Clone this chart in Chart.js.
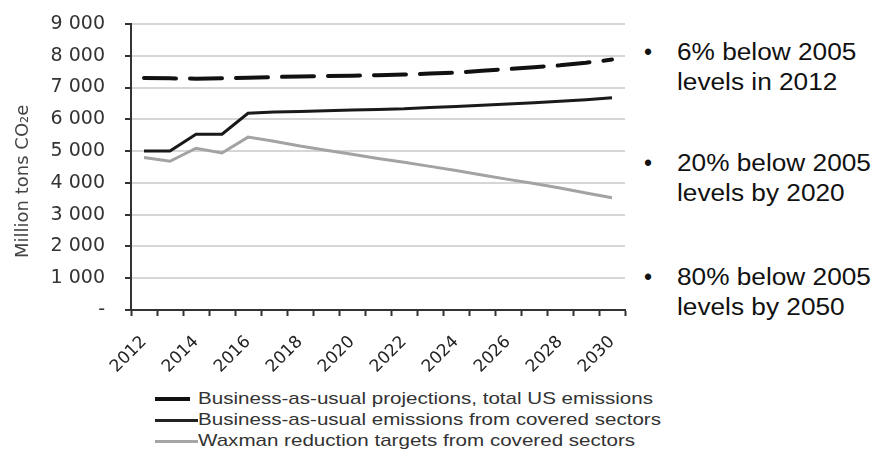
<!DOCTYPE html>
<html>
<head>
<meta charset="utf-8">
<script src="https://cdn.jsdelivr.net/npm/chart.js@4"></script>
<style>
  html, body { margin: 0; padding: 0; background: #fff; }
  body { width: 878px; height: 467px; position: relative; overflow: hidden; font-family: "Liberation Sans", Arial, sans-serif; }
  #wrap { position: absolute; left: 0; top: 0; width: 640px; height: 380px; }
  .leg { position: absolute; left: 155px; height: 20px; width: 600px; }
  .leg .sw { position: absolute; left: 0; }
  .leg span { position: absolute; left: 43px; top: 0; font-size: 17px; line-height: 20px; color: #333; white-space: nowrap; transform: scaleX(1.21); transform-origin: left center; }
  .note { position: absolute; left: 644px; font-size: 23px; line-height: 30px; color: #111; white-space: nowrap; }
  .note .b { position: absolute; left: 0; top: 0; }
  .note .t { position: absolute; left: 33px; top: 0; transform: scaleX(1.14); transform-origin: left top; }
</style>
</head>
<body>
<div id="wrap"><canvas id="grafica" width="640" height="380"></canvas></div>

<div class="leg" style="top:389px"><div class="sw" style="top:8px;width:35px;height:4px;background:#111"></div><span>Business-as-usual projections, total US emissions</span></div>
<div class="leg" style="top:410px"><div class="sw" style="top:9px;width:43px;height:3px;background:#222"></div><span>Business-as-usual emissions from covered sectors</span></div>
<div class="leg" style="top:431px"><div class="sw" style="top:9px;width:43px;height:3px;background:#a6a6a6"></div><span>Waxman reduction targets from covered sectors</span></div>

<div class="note" style="top:37px"><span class="b">•</span><span class="t">6% below 2005<br>levels in 2012</span></div>
<div class="note" style="top:148px"><span class="b">•</span><span class="t">20% below 2005<br>levels by 2020</span></div>
<div class="note" style="top:262px"><span class="b">•</span><span class="t">80% below 2005<br>levels by 2050</span></div>

<script>
// --- datos ---
const years = ['2012', '2013', '2014', '2015', '2016', '2017', '2018', '2019', '2020', '2021',
               '2022', '2023', '2024', '2025', '2026', '2027', '2028', '2029', '2030'];

// Business-as-usual projections, total US emissions (dashed)
const bauTotal = [7300, 7290, 7280, 7290, 7310, 7330, 7350, 7360, 7370, 7390,
                  7410, 7440, 7470, 7530, 7580, 7640, 7700, 7780, 7880];

// Business-as-usual emissions from covered sectors
const bauCovered = [5000, 5000, 5530, 5530, 6190, 6230, 6250, 6270, 6290, 6310,
                    6330, 6370, 6400, 6440, 6480, 6520, 6570, 6620, 6680];

// Waxman reduction targets from covered sectors
const waxman = [4800, 4680, 5090, 4940, 5440, 5310, 5160, 5030, 4900, 4770,
                4650, 4520, 4390, 4250, 4110, 3980, 3840, 3680, 3530];

const yTicks = [0, 1000, 2000, 3000, 4000, 5000, 6000, 7000, 8000, 9000];

const fmt = v => v === 0 ? '-' : String(v).replace(/\B(?=(\d{3})+(?!\d))/g, ' ');

const ctx = document.getElementById('grafica').getContext('2d');

new Chart(ctx, {
  type: 'line',
  data: {
    labels: years,
    datasets: [
      {
        label: 'Business-as-usual projections, total US emissions',
        data: bauTotal,
        borderColor: '#111',
        borderWidth: 4,
        borderDash: [32, 14],
        borderCapStyle: 'round',
        pointRadius: 0,
        fill: false,
        tension: 0
      },
      {
        label: 'Business-as-usual emissions from covered sectors',
        data: bauCovered,
        borderColor: '#1a1a1a',
        borderWidth: 3,
        pointRadius: 0,
        fill: false,
        tension: 0
      },
      {
        label: 'Waxman reduction targets from covered sectors',
        data: waxman,
        borderColor: '#a3a3a3',
        borderWidth: 3,
        pointRadius: 0,
        fill: false,
        tension: 0
      }
    ]
  },
  options: {
    responsive: false,
    animation: false,
    layout: { padding: { top: 24, right: 15, bottom: 0, left: 0 } },
    plugins: {
      legend: { display: false },
      tooltip: { enabled: false }
    },
    scales: {
      x: {
        offset: true,
        afterFit: s => { s.height = 70; s.paddingLeft = 0; s.paddingRight = 0; },
        grid: {
          offset: true,
          drawOnChartArea: false,
          drawTicks: true,
          tickLength: 6,
          tickColor: '#333',
          tickWidth: 2
        },
        border: { color: '#333', width: 2 },
        ticks: {
          autoSkip: false,
          maxRotation: 45,
          minRotation: 45,
          padding: 16,
          color: '#222',
          font: { family: 'DejaVu Sans', size: 17 },
          callback: (v, i) => i % 2 === 0 ? years[i] : ''
        }
      },
      y: {
        min: 0,
        max: 9000,
        // ancho fijo del eje y sin relleno extra arriba/abajo
        afterFit: s => { s.width = 131; s.paddingTop = 0; s.paddingBottom = 0; },
        afterBuildTicks: s => { s.ticks = yTicks.map(v => ({ value: v })); },
        grid: {
          color: '#d6d6d6',
          lineWidth: 2,
          tickLength: 6,
          tickColor: '#333',
          tickWidth: 2
        },
        border: { color: '#333', width: 2 },
        ticks: {
          padding: 20,
          color: '#333',
          font: { family: 'DejaVu Sans', size: 19 },
          callback: v => fmt(v)
        },
        title: {
          display: true,
          text: 'Million tons CO₂e\u00a0\u00a0\u00a0\u00a0\u00a0',
          color: '#444',
          font: { family: 'DejaVu Sans', size: 18 },
          padding: { top: 13, bottom: 0 }
        }
      }
    }
  }
});
</script>
</body>
</html>
